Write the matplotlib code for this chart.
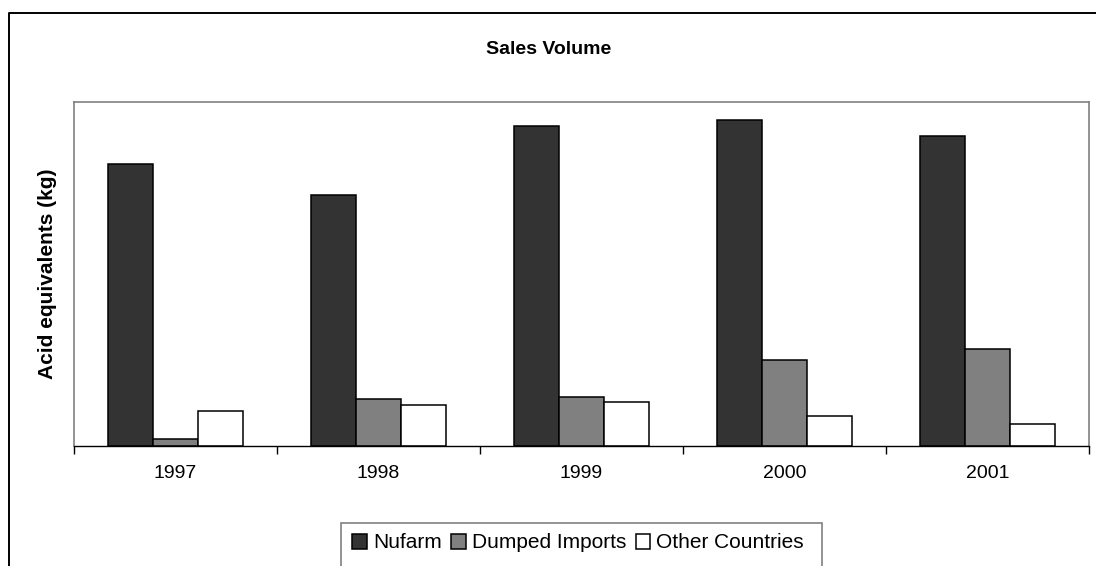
import matplotlib
matplotlib.use('Agg')
import matplotlib.pyplot as pyplot
from matplotlib.lines import Line2D
from matplotlib.patches import Rectangle
import numpy as np

years = ['1997', '1998', '1999', '2000', '2001']
nufarm = [282, 251, 320, 326, 310]
dumped_imports = [7, 47, 49, 86, 97]
other_countries = [35, 41, 44, 30, 22]

series_names = ['Nufarm', 'Dumped Imports', 'Other Countries']
series_colors = ['#333333', '#808080', '#ffffff']

pyplot.rcParams['font.family'] = ['Liberation Sans', 'DejaVu Sans']

fig = pyplot.figure()
fig.set_size_inches(10.96, 5.66)
W, H = 1096.0, 566.0

# plot area in pixel terms
ax = fig.add_axes([74 / W, 1 - 446 / H, (1089 - 74) / W, (446 - 102) / H])

x = np.arange(len(years))
bw = 1 / 4.5
handles = []
for i, (vals, color) in enumerate(zip([nufarm, dumped_imports, other_countries], series_colors)):
	b = ax.bar(x + (i - 1) * bw, vals, width=bw, color=color, edgecolor='black', linewidth=1.1)
	handles.append(b)

ax.set_xlim(-0.5, len(years) - 0.5)
ax.set_ylim(0, 344)
ax.set_yticks([])
ax.set_xticks(x)
ax.set_xticklabels(years, fontsize=14)
ax.set_xticks(np.arange(len(years) + 1) - 0.5, minor=True)
ax.tick_params(axis='x', which='major', length=0, pad=14)
ax.tick_params(axis='x', which='minor', length=6, width=1, color='black')
for side in ['top', 'left', 'right']:
	ax.spines[side].set_color('#808080')
	ax.spines[side].set_linewidth(1.2)
ax.spines['bottom'].set_color('black')
ax.spines['bottom'].set_linewidth(1)

ax.set_ylabel('Acid equivalents (kg)', fontsize=15, fontweight='bold', labelpad=12)
fig.text(549 / W, 1 - 49 / H, 'Sales Volume', fontsize=14, fontweight='bold', ha='center', va='center')

# outer chart border (left and top only visible)
fig.add_artist(Line2D([9 / W, 9 / W, 1.0], [0.0, 1 - 13 / H, 1 - 13 / H], transform=fig.transFigure, color='black', linewidth=1.4))

# legend box
fig.add_artist(Rectangle((341 / W, 1 - 580 / H), (822 - 341) / W, (580 - 523) / H, transform=fig.transFigure,
	facecolor='none', edgecolor='#808080', linewidth=1.2))
fig.legend(handles, series_names, loc='center', bbox_to_anchor=(578 / W, 1 - 543 / H), ncol=3, frameon=False,
	fontsize=15, handlelength=0.7, handleheight=0.7, handletextpad=0.3, columnspacing=0.45)

fig.savefig('out.png', dpi=100)
